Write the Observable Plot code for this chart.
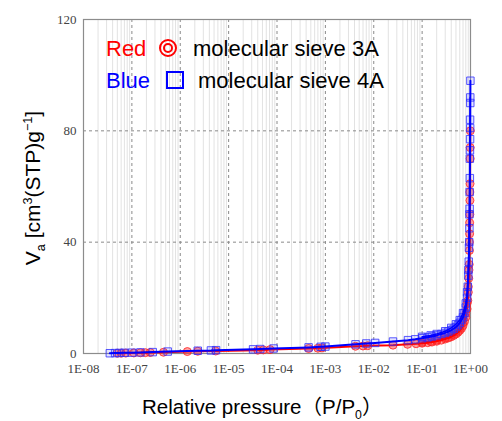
<!DOCTYPE html>
<html>
<head>
<meta charset="utf-8">
<script src="https://cdn.jsdelivr.net/npm/d3@7"></script>
<script src="https://cdn.jsdelivr.net/npm/@observablehq/plot@0.6"></script>
<style>
  html, body { margin: 0; padding: 0; background: #fff; }
  #wrap { position: relative; width: 502px; height: 421px; overflow: hidden; font-family: "Liberation Sans", Arial, sans-serif; }
  .lab { position: absolute; white-space: nowrap; line-height: 1.15; }
  sub, sup { font-size: 0.6em; }
</style>
</head>
<body>
<div id="wrap"></div>
<script>
// ---- data ----
const xTicks = [1e-8, 1e-7, 1e-6, 1e-5, 1e-4, 1e-3, 1e-2, 1e-1, 1];
const xTickLabels = ["1E-08", "1E-07", "1E-06", "1E-05", "1E-04", "1E-03", "1E-02", "1E-01", "1E+00"];
const yTicks = [0, 40, 80, 120];

// molecular sieve 4A (blue squares) — adsorption
const blueP = [3.5e-8, 4.5e-8, 5.5e-8, 7e-8, 1.0e-7, 1.5e-7, 2.7e-7, 5.5e-7, 2.3e-6, 4.3e-6, 5.5e-6, 3.2e-5, 4.5e-5, 8.5e-5, 4.5e-4, 8e-4, 1.0e-3, 4.2e-3, 7e-3, 1.07e-2, 2.5e-2, 5.1e-2, 7.2e-2, 0.1, 0.13, 0.16, 0.2, 0.25, 0.3, 0.35, 0.4, 0.45, 0.5, 0.55, 0.6, 0.65, 0.7, 0.75, 0.8, 0.85, 0.88, 0.9, 0.92, 0.94, 0.95, 0.96, 0.97, 0.975, 0.98, 0.985, 0.99, 0.995];
const blueV = [0.1, 0.15, 0.2, 0.25, 0.3, 0.4, 0.5, 0.7, 1.0, 1.1, 1.2, 1.5, 1.6, 1.8, 2.2, 2.4, 2.5, 3.3, 3.6, 3.8, 4.3, 4.8, 5.1, 5.5, 5.8, 6.1, 6.5, 7.0, 7.4, 7.9, 8.4, 8.9, 9.5, 10.2, 11, 12, 13, 14.5, 16.5, 20, 24, 28, 33, 40, 45, 52, 63, 73, 77, 81, 90, 98];
// molecular sieve 4A — desorption
const blueDesP = [0.99, 0.98, 0.97, 0.96, 0.95, 0.93, 0.9, 0.85, 0.8, 0.7, 0.6, 0.5, 0.4, 0.3, 0.2, 0.15, 0.1];
const blueDesV = [92, 84, 70, 58, 50, 38, 30, 22, 18, 14.5, 12, 10.5, 9.2, 8.0, 7.0, 6.5, 6.0];

// molecular sieve 3A (red circles) — adsorption
const redP = [5e-8, 6e-8, 7.5e-8, 1.1e-7, 1.5e-7, 1.9e-7, 2.4e-7, 4.5e-7, 1.4e-6, 2.3e-6, 5.4e-6, 4e-5, 5.2e-5, 7.2e-5, 4.5e-4, 7e-4, 8.5e-4, 4.2e-3, 6e-3, 7.5e-3, 2.5e-2, 5e-2, 7.5e-2, 0.1, 0.13, 0.16, 0.2, 0.25, 0.3, 0.35, 0.4, 0.45, 0.5, 0.55, 0.6, 0.65, 0.7, 0.75, 0.8, 0.85, 0.88, 0.9, 0.92, 0.94, 0.95, 0.96, 0.97, 0.975, 0.98, 0.985, 0.99];
const redV = [0.1, 0.12, 0.15, 0.2, 0.25, 0.3, 0.35, 0.45, 0.7, 0.8, 0.9, 1.2, 1.3, 1.4, 1.8, 1.9, 2.0, 2.6, 2.7, 2.8, 3.0, 3.3, 3.5, 3.7, 3.9, 4.1, 4.4, 4.8, 5.2, 5.6, 6.0, 6.5, 7.0, 7.6, 8.3, 9.0, 10, 11.5, 13, 16, 19, 22, 27, 32, 37, 43, 50, 55, 61, 70, 80];
// molecular sieve 3A — desorption
const redDesP = [0.985, 0.97, 0.96, 0.95, 0.93, 0.9, 0.85, 0.8, 0.7, 0.6, 0.5, 0.4, 0.3, 0.2, 0.15, 0.1];
const redDesV = [74, 58, 47, 40, 30, 24, 18, 14.5, 11, 9.2, 7.8, 6.6, 5.7, 4.8, 4.3, 4.0];

// ---- build ----
const zip = (P, V) => P.map((p, i) => ({p, v: V[i]}));
const blue = zip(blueP, blueV), blueDes = zip(blueDesP, blueDesV);
const red = zip(redP, redV), redDes = zip(redDesP, redDesV);
const minor = d3.scaleLog().domain([1e-8, 1]).ticks().filter(t => !xTicks.some(d => Math.abs(d - t) / d < 1e-9));
const xLabelData = xTicks.map((t, i) => ({t, label: xTickLabels[i]}));
const serif = "'Liberation Serif', 'DejaVu Serif', serif";

const chart = Plot.plot({
  width: 502, height: 421,
  marginLeft: 83, marginRight: 32, marginTop: 19, marginBottom: 68,
  style: {background: "transparent", overflow: "visible"},
  x: {type: "log", domain: [1e-8, 1], axis: null},
  y: {domain: [0, 120]},
  marks: [
    Plot.ruleX(minor, {stroke: "#e2e2e2", strokeWidth: 1}),
    Plot.ruleX(xTicks, {stroke: "#8a8a8a", strokeDasharray: "3,3", strokeWidth: 1}),
    Plot.ruleY([40, 80], {stroke: "#8a8a8a", strokeDasharray: "3,3", strokeWidth: 1}),
    Plot.frame({stroke: "#8c8c8c", strokeWidth: 1.2}),
    Plot.text(xLabelData, {x: "t", text: "label", frameAnchor: "bottom", lineAnchor: "top", dy: 10,
      fontFamily: serif, fontSize: 13, fill: "#444"}),
    Plot.axisY({ticks: yTicks, tickSize: 0, tickPadding: 7,
      fontFamily: serif, fontSize: 13, color: "#444", label: null}),
    Plot.dot(red, {x: "p", y: "v", r: 4, fill: "#ff3030", fillOpacity: 0.45, stroke: "#ff2020", strokeWidth: 1, strokeOpacity: 0.8}),
    Plot.dot(redDes, {x: "p", y: "v", r: 4, fill: "#ff3030", fillOpacity: 0.45, stroke: "#ff2020", strokeWidth: 1, strokeOpacity: 0.8}),
    Plot.line(red, {x: "p", y: "v", stroke: "#ff0000", strokeWidth: 2}),
    Plot.line(redDes, {x: "p", y: "v", stroke: "#ff0000", strokeWidth: 1.5}),
    Plot.dot(blue, {x: "p", y: "v", symbol: "square", r: 4.2, fill: "#5050ff", fillOpacity: 0.15, stroke: "#3030ff", strokeWidth: 1, strokeOpacity: 0.8}),
    Plot.dot(blueDes, {x: "p", y: "v", symbol: "square", r: 4.2, fill: "#5050ff", fillOpacity: 0.15, stroke: "#3030ff", strokeWidth: 1, strokeOpacity: 0.8}),
    Plot.line(blueDes, {x: "p", y: "v", stroke: "#0000ff", strokeWidth: 1.5}),
    Plot.line(blue, {x: "p", y: "v", stroke: "#0000ff", strokeWidth: 2})
  ]
});
const wrap = document.getElementById("wrap");
chart.style.position = "absolute";
chart.style.left = "0px";
chart.style.top = "0px";
wrap.appendChild(chart);

function addLabel(html, css) {
  const d = document.createElement("div");
  d.className = "lab";
  d.innerHTML = html;
  Object.assign(d.style, css);
  wrap.appendChild(d);
  return d;
}
// legend
addLabel('<span style="color:#ff0000">Red</span>', {left: "106px", top: "36px", fontSize: "22px"});
addLabel('<svg width="20" height="20" viewBox="0 0 20 20"><circle cx="10" cy="10" r="8" fill="none" stroke="#ff0000" stroke-width="2"/><circle cx="10" cy="10" r="4" fill="none" stroke="#ff0000" stroke-width="2"/></svg>',
  {left: "158px", top: "38px", lineHeight: "0"});
addLabel('molecular sieve 3A', {left: "193px", top: "36px", fontSize: "22px", color: "#000"});
addLabel('<span style="color:#0000ff">Blue</span>', {left: "106px", top: "68px", fontSize: "22px"});
addLabel('<svg width="20" height="20" viewBox="0 0 20 20"><rect x="2" y="2" width="16" height="16" fill="none" stroke="#0000ff" stroke-width="2"/></svg>',
  {left: "165px", top: "70px", lineHeight: "0"});
addLabel('molecular sieve 4A', {left: "198px", top: "68px", fontSize: "22px", color: "#000"});
// x axis title
addLabel('Relative pressure<span style="font-family:\'Noto Sans CJK JP\'">（</span>P/P<sub>0</sub><span style="font-family:\'Noto Sans CJK JP\'">）</span>',
  {left: "142px", top: "394px", fontSize: "20.5px", color: "#000"});
// y axis title
addLabel('V<sub>a</sub> [cm<sup>3</sup>(STP)g<sup>−1</sup>]',
  {left: "35px", top: "188px", fontSize: "21px", color: "#000", transform: "translate(-50%,-50%) rotate(-90deg)"});
</script>
</body>
</html>
